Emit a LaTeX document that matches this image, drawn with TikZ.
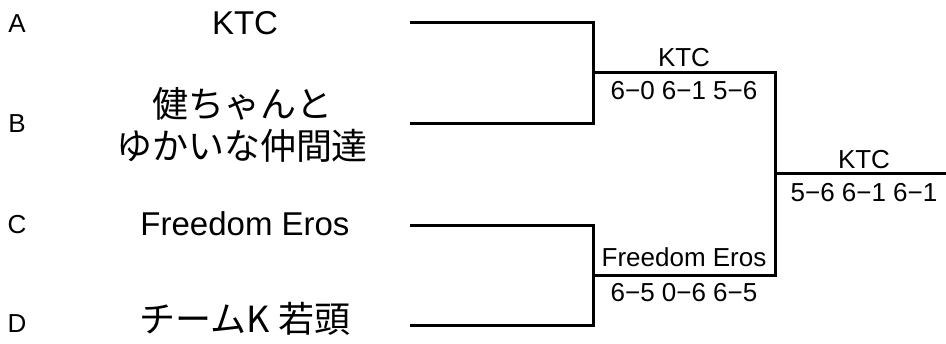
\documentclass[tikz,border=0pt]{standalone}
\usepackage{fontspec}
\setmainfont{Liberation Sans}
\newfontfamily\jpfont{Noto Sans CJK JP}
\usetikzlibrary{positioning,calc}
\tikzstyle{bracket} = [line width=3pt, color=black]
\tikzstyle{seed} = [anchor=base, inner sep=0pt, font=\fontsize{26}{30}\selectfont]
\tikzstyle{team} = [anchor=base, inner sep=0pt, font=\fontsize{33}{40}\selectfont]
\tikzstyle{result} = [anchor=base, inner sep=0pt, font=\fontsize{26}{30}\selectfont]

\begin{document}
\begin{tikzpicture}[x=1pt, y=-1pt]
    \useasboundingbox (0,0) rectangle (946,344);

    % Seeds
    \node[seed] (sa) at (17,33) {A};
    \node[seed] (sb) at (17,133) {B};
    \node[seed] (sc) at (17,234) {C};
    \node[seed] (sd) at (17,333) {D};

    % Teams
    \node[team] (ta) at (245,35) {KTC};
    \node[team, anchor=center, align=center, font=\jpfont\fontsize{36}{42}\selectfont] (tb) at (242,125) {健ちゃんと\\ゆかいな仲間達};
    \node[team] (tc) at (245,236) {Freedom Eros};
    \node[team, font=\jpfont\fontsize{36}{40}\selectfont] (td) at (245,333) {チームK 若頭};

    % Bracket points
    \coordinate (la) at (410,23);
    \coordinate (lb) at (410,124);
    \coordinate (lc) at (410,226);
    \coordinate (ld) at (410,326);
    \coordinate (m1) at (593,73);
    \coordinate (m2) at (593,276);
    \coordinate (f) at (775,174);
    \coordinate (w) at (946,174);

    % Lines
    \draw[bracket] (la) -| (m1) |- (lb);
    \draw[bracket] (lc) -| (m2) |- (ld);
    \draw[bracket] (m1) -| (f) |- (m2);
    \draw[bracket] (f) -- (w);

    % Semi-final results
    \node[result] (w1) at (684,67) {KTC};
    \node[result] (r1) at (684,100) {6−0 6−1 5−6};
    \node[result] (w2) at (684,267) {Freedom Eros};
    \node[result] (r2) at (684,302) {6−5 0−6 6−5};

    % Final result
    \node[result] (wf) at (864,169) {KTC};
    \node[result] (rf) at (864,202) {5−6 6−1 6−1};
\end{tikzpicture}
\end{document}
